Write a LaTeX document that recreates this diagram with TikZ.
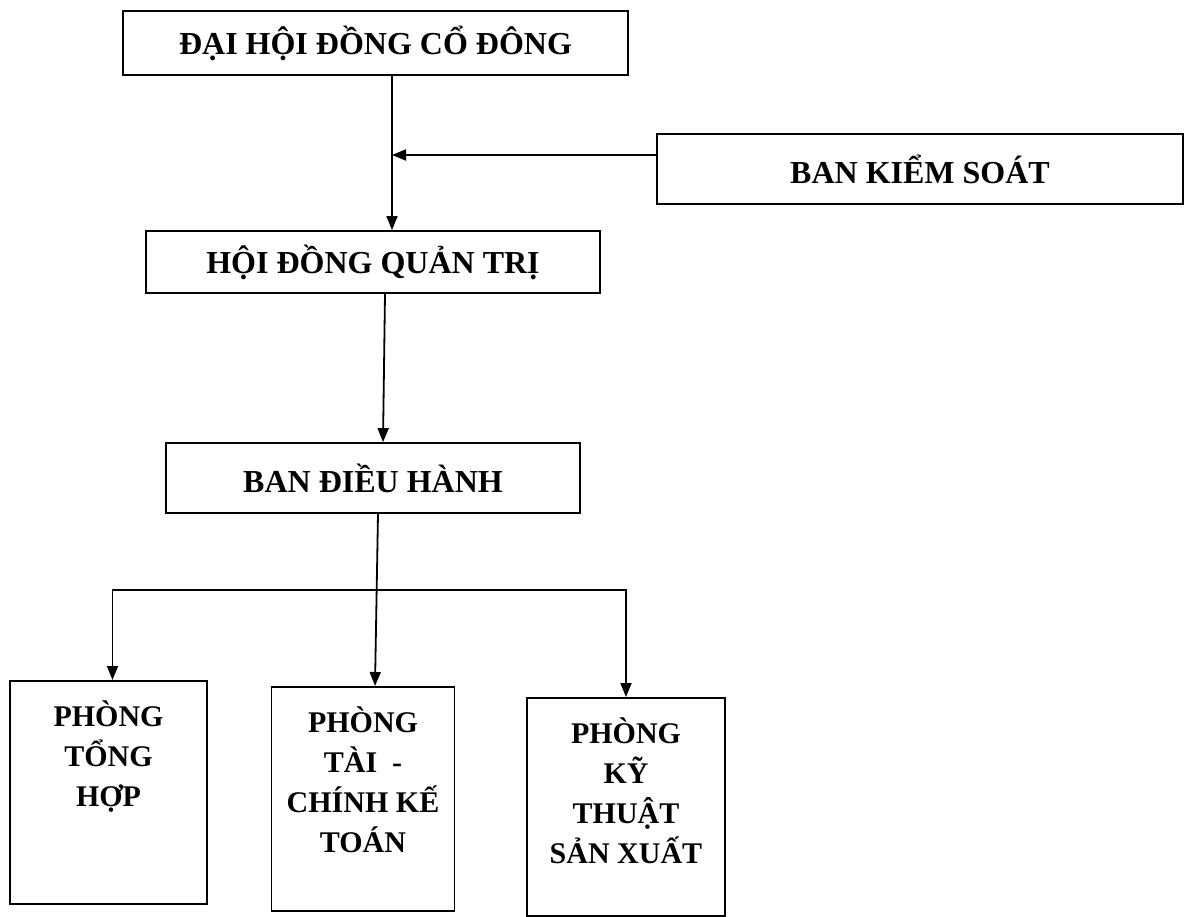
\documentclass[tikz,border=0pt]{standalone}
\usepackage{fontspec}
\setmainfont{Liberation Serif}
\usetikzlibrary{positioning, arrows.meta}
\newcommand\Deptbox[3]{%
  \parbox[t][#1][t]{#2}{\centering#3}}

\begin{document}
\begin{tikzpicture}[x=1pt, y=1pt,
box/.style={
  draw, line width=1.8pt,
  inner sep=0pt,
  font=\bfseries\fontsize{32}{40}\selectfont
},
dept/.style={box, anchor=north, inner ysep=20pt,
  font=\bfseries\fontsize{30}{40}\selectfont},
link/.style={line width=1.8pt, -{Triangle[length=14pt,width=11pt]}}
]
\useasboundingbox (0,0) rectangle (1195,-917);

\node (dhdcd) [box, minimum width=505, minimum height=64] at (375.5,-43) {ĐẠI HỘI ĐỒNG CỔ ĐÔNG};
\node (bks) [box, minimum width=526, minimum height=70] at (920,-169) {BAN KIỂM SOÁT};
\node (hdqt) [box, minimum width=454, minimum height=62] at (373,-262) {HỘI ĐỒNG QUẢN TRỊ};
\node (bdh) [box, minimum width=414, minimum height=70] at (373,-478) {BAN ĐIỀU HÀNH};

\node (p1) [dept] at (108.5,-680) {\Deptbox{183pt}{197pt}{PHÒNG\\TỔNG\\HỢP}};
\node (p2) [dept] at (363,-686) {\Deptbox{184pt}{183pt}{PHÒNG\\TÀI\enspace-\\CHÍNH KẾ\\TOÁN}};
\node (p3) [dept] at (626,-697) {\Deptbox{178pt}{198pt}{PHÒNG\\KỸ\\THUẬT\\SẢN XUẤT}};

\coordinate (j) at (392,-155);
\coordinate (bar) at (375,-590);

\draw[link] (dhdcd.south -| j) -- (hdqt.north -| j);
\draw[link] (bks.west |- j) -- (j);
\draw[link] ([xshift=12]hdqt.south) -- ([xshift=10]bdh.north);
\draw[link] ([xshift=5]bdh.south) -- ([xshift=12]p2.north);
\draw[link, {Triangle[length=14pt,width=11pt]}-{Triangle[length=14pt,width=11pt]}] ([xshift=4]p1.north) |- (bar) -| (p3.north);
\end{tikzpicture}
\end{document}
